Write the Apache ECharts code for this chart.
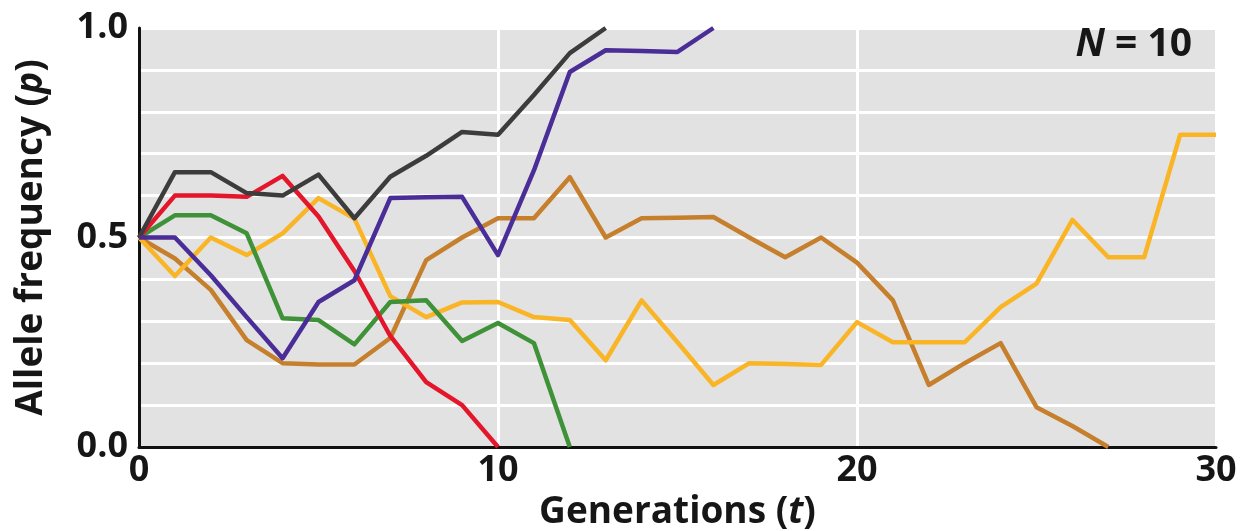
<!DOCTYPE html>
<html>
<head>
<meta charset="utf-8">
<script src="https://cdn.jsdelivr.net/npm/echarts@6/dist/echarts.min.js"></script>
<style>
  html, body { margin: 0; padding: 0; background: #ffffff; }
  #chart { width: 1241px; height: 531px; }
</style>
</head>
<body>
<div id="chart"></div>
<script>
// Generations (x values)
const generations = [0,1,2,3,4,5,6,7,8,9,10,11,12,13,14,15,16,17,18,19,20,21,22,23,24,25,26,27,28,29,30];

// Allele frequency per replicate population (N = 10)
const grayPop   = [0.50,0.656,0.656,0.606,0.60,0.65,0.546,0.645,0.695,0.752,0.745,0.84,0.94,1.00];
const redPop    = [0.50,0.60,0.60,0.597,0.647,0.55,0.42,0.265,0.155,0.10,0.00];
const greenPop  = [0.50,0.553,0.553,0.51,0.307,0.303,0.245,0.346,0.35,0.253,0.296,0.248,0.00];
const purplePop = [0.50,0.50,0.41,0.31,0.212,0.346,0.398,0.594,0.596,0.597,0.458,0.66,0.895,0.947,0.945,0.943,1.00];
const brownPop  = [0.50,0.45,0.375,0.255,0.20,0.197,0.197,0.26,0.446,0.50,0.546,0.546,0.644,0.50,0.546,0.547,0.549,0.50,0.453,0.50,0.44,0.35,0.148,0.20,0.248,0.095,0.05,0.00];
const yellowPop = [0.50,0.408,0.50,0.458,0.51,0.594,0.545,0.36,0.31,0.345,0.346,0.31,0.303,0.207,0.35,0.25,0.148,0.20,0.198,0.196,0.298,0.25,0.25,0.25,0.334,0.39,0.542,0.453,0.453,0.745,0.745];

// Tick labels
const xTickLabels = ['0','10','20','30'];
const yTickLabels = ['0.0','0.5','1.0'];

const FONT = 'Open Sans';

function pairs(vals) {
  return vals.map((v, i) => [generations[i], v]);
}

const seriesDefs = [
  { name: 'brown',  data: brownPop,  color: '#c67f2c' },
  { name: 'yellow', data: yellowPop, color: '#f9b526' },
  { name: 'green',  data: greenPop,  color: '#3f9238' },
  { name: 'red',    data: redPop,    color: '#e3162b' },
  { name: 'gray',   data: grayPop,   color: '#3c3c3c' },
  { name: 'purple', data: purplePop, color: '#4a2d97' }
];

const chart = echarts.init(document.getElementById('chart'), null, { renderer: 'canvas' });

chart.setOption({
  animation: false,
  backgroundColor: '#ffffff',
  title: {
    text: '{i|N} = 10',
    right: 44,
    top: 20,
    textStyle: {
      fontFamily: FONT,
      fontWeight: 'bold',
      fontSize: 39,
      color: '#161616',
      rich: {
        i: { fontFamily: FONT, fontWeight: 'bold', fontStyle: 'italic', fontSize: 39, color: '#161616' }
      }
    }
  },
  grid: {
    left: 139,
    right: 25,
    top: 28,
    bottom: 84,
    containLabel: false,
    outerBoundsMode: 'none',
    show: true,
    backgroundColor: '#e2e2e2',
    borderWidth: 0
  },
  xAxis: {
    type: 'value',
    min: 0,
    max: 30,
    interval: 10,
    name: 'Generations ({i|t})',
    nameLocation: 'middle',
    nameGap: 43,
    nameTextStyle: {
      fontFamily: FONT,
      fontWeight: 'bold',
      fontSize: 37,
      color: '#161616',
      rich: {
        i: { fontFamily: FONT, fontWeight: 'bold', fontStyle: 'italic', fontSize: 37, color: '#161616' }
      }
    },
    axisLine: { show: true, onZero: false, lineStyle: { color: '#111111', width: 3 } },
    axisTick: { show: false },
    axisLabel: {
      fontFamily: FONT,
      fontWeight: 'bold',
      fontSize: 36,
      color: '#161616',
      margin: 6,
      formatter: function (v) {
        const idx = Math.round(v / 10);
        return xTickLabels[idx] !== undefined ? xTickLabels[idx] : '';
      }
    },
    splitLine: { show: true, lineStyle: { color: '#ffffff', width: 3 } }
  },
  yAxis: {
    type: 'value',
    min: 0,
    max: 1,
    interval: 0.1,
    name: 'Allele frequency ({i|p})',
    nameLocation: 'middle',
    nameGap: 89,
    nameTextStyle: {
      fontFamily: FONT,
      fontWeight: 'bold',
      fontSize: 37,
      color: '#161616',
      rich: {
        i: { fontFamily: FONT, fontWeight: 'bold', fontStyle: 'italic', fontSize: 37, color: '#161616' }
      }
    },
    axisLine: { show: true, onZero: false, lineStyle: { color: '#111111', width: 3 } },
    axisTick: { show: false },
    axisLabel: {
      fontFamily: FONT,
      fontWeight: 'bold',
      fontSize: 36,
      color: '#161616',
      margin: 11,
      showMinLabel: true,
      showMaxLabel: true,
      formatter: function (v) {
        const k = Math.round(v * 10);
        if (k === 0) return yTickLabels[0];
        if (k === 5) return yTickLabels[1];
        if (k === 10) return yTickLabels[2];
        return '';
      }
    },
    splitLine: { show: true, lineStyle: { color: '#ffffff', width: 3 } }
  },
  series: seriesDefs.map(s => ({
    name: s.name,
    type: 'line',
    data: pairs(s.data),
    showSymbol: false,
    symbol: 'none',
    clip: true,
    lineStyle: { color: s.color, width: 4.5, join: 'round', cap: 'butt' },
    itemStyle: { color: s.color },
    z: 3
  }))
});
</script>
</body>
</html>
